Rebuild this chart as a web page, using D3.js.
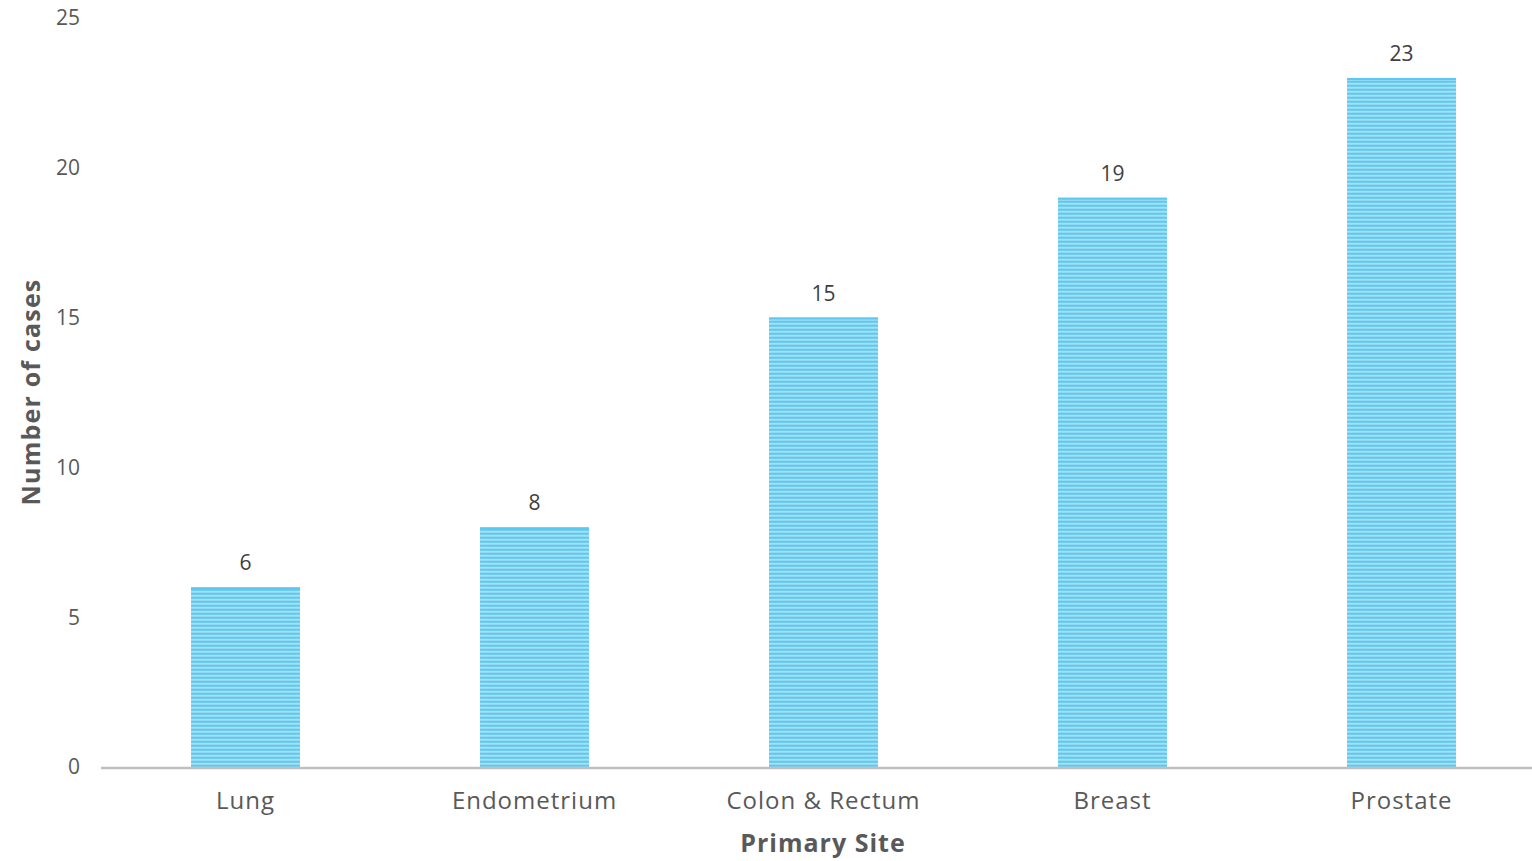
<!DOCTYPE html>
<html><head><meta charset="utf-8">
<script src="https://cdn.jsdelivr.net/npm/d3@7"></script>
<style>
html,body{margin:0;padding:0;background:#fff;}
svg{display:block;}
text{font-family:"Open Sans","DejaVu Sans",sans-serif;fill:#595959;}
</style></head>
<body>
<svg id="chart" width="1532" height="861"></svg>
<script>
const categories = ["Lung","Endometrium","Colon & Rectum","Breast","Prostate"];
const values = [6, 8, 15, 19, 23];
const yTicks = [0, 5, 10, 15, 20, 25];
const xTitle = "Primary Site";
const yTitle = "Number of cases";

const svg = d3.select("#chart");
const defs = svg.append("defs");
const pat = defs.append("pattern").attr("id","stripes").attr("patternUnits","userSpaceOnUse")
  .attr("width",8).attr("height",4).attr("y",0.5);
pat.append("rect").attr("width",8).attr("height",4).attr("fill","#c4ebf9");
pat.append("rect").attr("width",8).attr("height",2.6).attr("fill","#5cc8ef");

const left = 101, baseY = 767, topY = 18;
const x = d3.scaleBand().domain(categories).range([left, 1546]).paddingInner(0.623).paddingOuter(0.3115);
const y = d3.scaleLinear().domain([0,25]).range([baseY, topY]);

// y tick labels
svg.append("g").selectAll("text").data(yTicks).join("text")
  .attr("x", 80).attr("y", d => y(d)).attr("dy","0.35em")
  .attr("text-anchor","end").attr("font-size",21).text(d => d);

// bars
svg.append("g").selectAll("rect").data(values).join("rect")
  .attr("x",(d,i)=>x(categories[i])).attr("width",x.bandwidth())
  .attr("y",d=>y(d)).attr("height",d=>baseY-y(d))
  .attr("fill","url(#stripes)");

// bar top edge
svg.append("g").selectAll("line").data(values).join("line")
  .attr("x1",(d,i)=>x(categories[i])).attr("x2",(d,i)=>x(categories[i])+x.bandwidth())
  .attr("y1",d=>y(d)+1).attr("y2",d=>y(d)+1)
  .attr("stroke","#5cc8ef").attr("stroke-width",2);

// value labels
svg.append("g").selectAll("text").data(values).join("text")
  .attr("x",(d,i)=>x(categories[i])+x.bandwidth()/2).attr("y",d=>y(d)-17)
  .attr("text-anchor","middle").attr("font-size",21).style("fill","#404040").text(d=>d);

// axis line
svg.append("line").attr("x1",left).attr("x2",1532).attr("y1",baseY+1).attr("y2",baseY+1)
  .attr("stroke","#bfbfbf").attr("stroke-width",2.5);

// x labels
svg.append("g").selectAll("text").data(categories).join("text")
  .attr("x",d=>x(d)+x.bandwidth()/2).attr("y",801).attr("dy","0.35em")
  .attr("text-anchor","middle").attr("font-size",24).attr("letter-spacing","1px").text(d=>d);

// axis titles
svg.append("text").attr("x",823).attr("y",843).attr("dy","0.35em")
  .attr("text-anchor","middle").attr("font-size",25).attr("letter-spacing","1px")
  .attr("font-weight","bold").text(xTitle);
svg.append("text").attr("transform","translate(31,392) rotate(-90)").attr("dy","0.35em")
  .attr("text-anchor","middle").attr("font-size",25).attr("letter-spacing","1.2px")
  .attr("font-weight","bold").text(yTitle);
</script>
</body></html>
